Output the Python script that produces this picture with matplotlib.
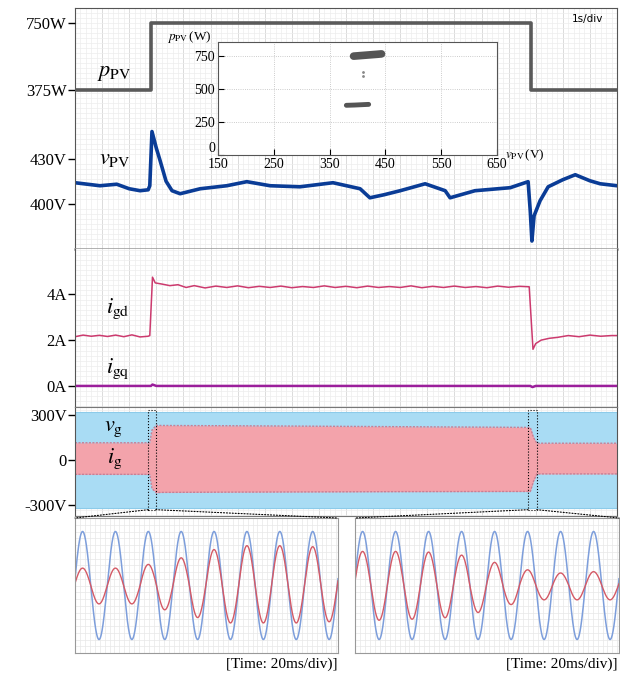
import numpy as np
import matplotlib
matplotlib.use('Agg')
import matplotlib.pyplot as plt
from matplotlib.ticker import MultipleLocator
from matplotlib.patches import Rectangle, ConnectionPatch

plt.rcParams['font.family'] = 'Liberation Serif'
plt.rcParams['mathtext.fontset'] = 'stix'

# ---- long time-scale traces (time in s, 1 s/div) ----
ppv_t = [0, 1.40, 1.40, 8.42, 8.42, 10]
ppv_w = [375, 375, 750, 750, 375, 375]

vpv_t = [0, 0.46, 0.77, 1.0, 1.20, 1.35, 1.38, 1.42, 1.50, 1.57, 1.68, 1.79, 1.94, 2.31, 2.8,
         3.17, 3.6, 4.15, 4.76, 5.26, 5.44, 5.7, 6.00, 6.46, 6.83, 6.92, 7.38, 8.03, 8.36, 8.40,
         8.43, 8.47, 8.58, 8.73, 9.0, 9.23, 9.50, 9.69, 10]
vpv_v = [414, 412, 413, 410, 408.7, 409.3, 412, 448, 437, 428.7, 415, 408.7, 406.7, 410, 412,
         414.7, 412, 411.3, 414, 410, 404, 406, 408.7, 413.3, 408.7, 404, 408.7, 410.7, 414.7, 395,
         375.3, 392, 402, 411.3, 416, 419.3, 415.3, 413.3, 412]

igd_t = [0, 0.15, 0.3, 0.45, 0.6, 0.75, 0.9, 1.05, 1.2, 1.35,
         1.38, 1.43, 1.48, 1.6, 1.75, 1.9, 2.05, 2.2,
         2.4, 2.6, 2.8, 3.0, 3.2, 3.4, 3.6, 3.8, 4.0, 4.2,
         4.4, 4.6, 4.8, 5.0, 5.2, 5.4, 5.6, 5.8, 6.0, 6.2,
         6.4, 6.6, 6.8, 7.0, 7.2, 7.4, 7.6, 7.8, 8.0, 8.2,
         8.38, 8.45, 8.5, 8.6, 8.75, 8.9, 9.1, 9.3, 9.5, 9.7, 9.9, 10]
igd_a = [2.15, 2.22, 2.17, 2.21, 2.16, 2.22, 2.15, 2.23, 2.14, 2.17,
         2.2, 4.75, 4.5, 4.45, 4.38, 4.42, 4.3, 4.38,
         4.28, 4.36, 4.3, 4.37, 4.29, 4.35, 4.3, 4.36, 4.29, 4.34,
         4.3, 4.37, 4.3, 4.35, 4.29, 4.36, 4.3, 4.34, 4.3, 4.37,
         4.29, 4.35, 4.3, 4.36, 4.3, 4.34, 4.29, 4.36, 4.31, 4.35,
         4.33, 1.6, 1.85, 2.0, 2.08, 2.12, 2.2, 2.15, 2.22, 2.17, 2.2, 2.2]

igq_t = [0, 1.40, 1.43, 1.50, 8.40, 8.44, 8.50, 10]
igq_a = [0, 0, 0.06, 0, 0, -0.05, 0, 0]

# grid voltage / current envelopes (V)
vg_t = [0, 10]
vg_hi = [322, 322]
vg_lo = [-318, -318]
ig_t = [0, 1.38, 1.42, 1.50, 1.6, 3.0, 6.0, 8.0, 8.40, 8.46, 8.52, 10]
ig_hi = [115, 115, 200, 231, 230, 228, 222, 218, 217, 150, 112, 112]
ig_lo = [-95, -95, -190, -217, -215, -213, -210, -209, -209, -140, -92, -92]

# zoom windows (s)
zoom_left = (1.35, 1.49)
zoom_right = (8.36, 8.52)

# ---- inset: p-v operating points ----
op_hi_v = [393, 405, 420, 435, 443]
op_hi_p = [748, 752, 757, 762, 765]
op_lo_v = [380, 395, 410, 420]
op_lo_p = [376, 378, 381, 383]
op_mid_v = [410, 409]
op_mid_p = [630, 600]

# ---- zoomed waveforms (20 ms/div), peak of each half cycle ----
T_ms = 1000 / 60
vg_peak = 320
ig_peaks_left = [103, 109, 103, 109, 125, 144, 164, 190, 213, 222, 236, 222, 236, 222, 230, 215]
ig_peaks_right = [202, 206, 202, 200, 198, 191, 180, 160, 137, 113, 93, 85, 74, 85, 82, 85]

W, H = 620, 676
fig = plt.figure(figsize=(W / 100, H / 100), dpi=100)


def box(x0, y0, x1, y1):
    return [x0 / W, 1 - y1 / H, (x1 - x0) / W, (y1 - y0) / H]


def label(x, y, s, size=16):
    fig.text(x / W, 1 - y / H, s, fontsize=size, va='baseline', ha='left')


def style_main(ax, ylim, yticks, ylabels):
    ax.set_xlim(0, 10)
    ax.set_ylim(*ylim)
    ax.set_yticks(yticks)
    ax.set_yticklabels(ylabels)
    ax.xaxis.set_major_locator(MultipleLocator(0.5))
    ax.xaxis.set_minor_locator(MultipleLocator(0.1))
    ax.tick_params(axis='x', which='both', length=0, labelbottom=False)
    ax.tick_params(axis='y', which='major', direction='out', length=5, width=1,
                   labelsize=12, pad=1)
    ax.tick_params(axis='y', which='minor', length=0)
    ax.grid(which='minor', color='#ededed', lw=0.5)
    ax.grid(which='major', axis='x', color='#d6d6d6', lw=0.6)
    ax.set_axisbelow(True)
    for s in ax.spines.values():
        s.set_color('#555555')


# top section: p_PV and v_PV
ax1 = fig.add_axes(box(75, 8, 617, 249))
style_main(ax1, (370, 530), [400, 430], ['400V', '430V'])
ax1.yaxis.set_minor_locator(MultipleLocator(10 / 3))
ax1.plot(vpv_t, vpv_v, color='#0a3c96', lw=2.6, solid_joinstyle='round')
ax1.spines['bottom'].set_color('#999999')
ax1.spines['bottom'].set_linewidth(1.8)
ax1.text(0.975, 0.955, '1s/div', transform=ax1.transAxes, ha='right', va='center',
         fontsize=7.5, family='DejaVu Sans')

axp = ax1.twinx()
axp.set_ylim(-509, 834)
axp.plot(ppv_t, ppv_w, color='#5a5a5a', lw=2.6)
axp.yaxis.tick_left()
axp.set_yticks([375, 750])
axp.set_yticklabels(['375W', '750W'])
axp.tick_params(axis='y', direction='out', length=5, width=1, labelsize=12, pad=1,
                labelleft=True, labelright=False)
for s in axp.spines.values():
    s.set_visible(False)

# middle section: grid currents
ax2 = fig.add_axes(box(75, 249, 617, 407))
style_main(ax2, (-0.92, 5.98), [0, 2, 4], ['0A', '2A', '4A'])
ax2.yaxis.set_minor_locator(MultipleLocator(0.22))
ax2.plot(igd_t, igd_a, color='#cc3a6e', lw=1.1)
ax2.plot(igq_t, igq_a, color='#9b1f9b', lw=1.8)
ax2.spines['top'].set_visible(False)

# bottom section: v_g and i_g
ax3 = fig.add_axes(box(75, 407, 617, 516))
style_main(ax3, (-372, 353), [-300, 0, 300], ['-300V', '0', '300V'])
ax3.yaxis.set_minor_locator(MultipleLocator(33))
ax3.fill_between(vg_t, vg_lo, vg_hi, color='#a9dcf4', lw=0)
ax3.plot(vg_t, vg_hi, color='#8ccbea', lw=0.8)
ax3.plot(vg_t, vg_lo, color='#8ccbea', lw=0.8)
ax3.fill_between(ig_t, ig_lo, ig_hi, color='#f3a3ab', lw=0)
ax3.plot(ig_t, ig_hi, color='#c77f95', lw=1.0, ls=(0, (1.5, 1)))
ax3.plot(ig_t, ig_lo, color='#c77f95', lw=1.0, ls=(0, (1.5, 1)))
ax3.spines['top'].set_color('#777777')
ax3.spines['bottom'].set_color('#777777')
for z0, z1 in (zoom_left, zoom_right):
    ax3.add_patch(Rectangle((z0, -330), z1 - z0, 660, fill=False, ec='black',
                            lw=0.8, ls=':', zorder=5))

# inset p-v plane
axi = fig.add_axes(box(218, 42, 497, 155))
axi.set_xlim(150, 650)
axi.set_ylim(0, 855)
axi.set_xticks([150, 250, 350, 450, 550, 650])
axi.set_yticks([0, 250, 500, 750])
axi.tick_params(direction='in', length=4, labelsize=10, pad=2)
axi.grid(color='#bbbbbb', lw=0.6, ls=':')
for s in axi.spines.values():
    s.set_color('#555555')
# lift the "0" label so it sits just above the "150" label
axi.get_yticklabels()[0].set_va('bottom')
axi.plot(op_hi_v, op_hi_p, color='#555555', lw=5.5, solid_capstyle='round')
axi.plot(op_lo_v, op_lo_p, color='#555555', lw=3.5, solid_capstyle='round')
axi.plot(op_mid_v, op_mid_p, 'o', color='#888888', ms=1)
fig.text(167 / W, 1 - 40 / H, r'$p_{\rm PV}\,$(W)', fontsize=9.5, va='baseline')
fig.text(505 / W, 1 - 158 / H, r'$v_{\rm PV}\,$(V)', fontsize=9.5, va='baseline')

# zoomed waveform panels
def wave_panel(rect, ig_peaks):
    ax = fig.add_axes(rect)
    t = np.linspace(0, 8 * T_ms, 1600)
    z0 = 0.23 * T_ms - T_ms / 4
    idx = np.clip(((t - z0) // (T_ms / 2)).astype(int), 0, len(ig_peaks) - 1)
    carrier = np.cos(2 * np.pi * (t - 0.23 * T_ms) / T_ms)
    ax.plot(t, vg_peak * carrier, color='#7d9edb', lw=1.1)
    ax.plot(t, np.array(ig_peaks)[idx] * carrier, color='#d45a66', lw=1.0)
    ax.set_xlim(0, 8 * T_ms)
    ax.set_ylim(-400, 400)
    ax.xaxis.set_minor_locator(MultipleLocator(2.5))
    ax.yaxis.set_minor_locator(MultipleLocator(40))
    ax.set_xticks([])
    ax.set_yticks([])
    ax.tick_params(which='both', length=0)
    ax.grid(which='minor', color='#e8e8e8', lw=0.5)
    ax.set_axisbelow(True)
    for s in ax.spines.values():
        s.set_color('#999999')
    return ax

bl = wave_panel(box(75, 518, 338, 653), ig_peaks_left)
br = wave_panel(box(355, 518, 619, 653), ig_peaks_right)

for (z0, z1), ax in ((zoom_left, bl), (zoom_right, br)):
    for xa, xb in ((z0, 0), (z1, 1)):
        con = ConnectionPatch(xyA=(xa, -330), coordsA=ax3.transData,
                              xyB=(xb, 1), coordsB=ax.transAxes,
                              color='black', lw=0.8, ls=':')
        fig.add_artist(con)

fig.text(338 / W, 1 - 668 / H, '[Time: 20ms/div)]', fontsize=11, ha='right', va='baseline')
fig.text(617 / W, 1 - 668 / H, '[Time: 20ms/div)]', fontsize=11, ha='right', va='baseline')

# trace labels
label(97, 76, r'$p_{\rm PV}$')
label(99, 164, r'$v_{\rm PV}$')
label(106, 313, r'$i_{\rm gd}$')
label(106, 373, r'$i_{\rm gq}$')
label(104, 431, r'$v_{\rm g}$')
label(107, 463, r'$i_{\rm g}$')

fig.savefig('out.png', dpi=100)
